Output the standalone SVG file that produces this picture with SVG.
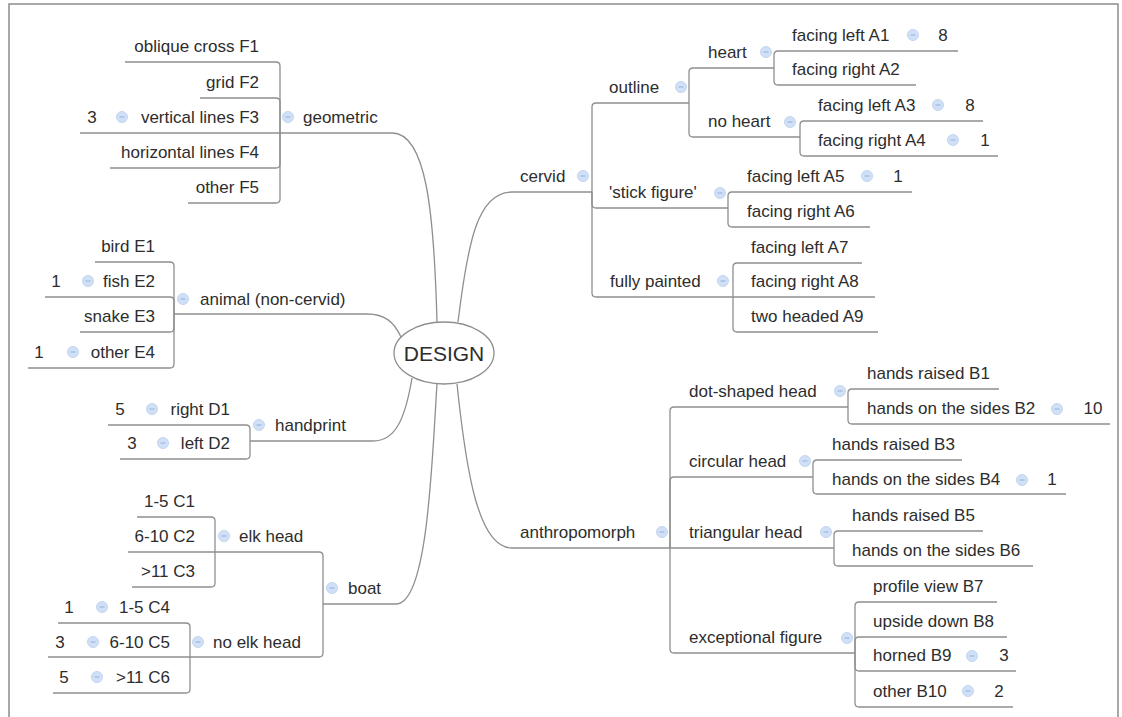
<svg xmlns="http://www.w3.org/2000/svg" width="1122" height="717" viewBox="0 0 1122 717">
  <defs>
    <style>
      .frame { fill: none; stroke: #8c8c8c; stroke-width: 1.5; }
      .ln { fill: none; stroke: #8f8f8f; stroke-width: 1.3; }
      .t { font-family: "Liberation Sans", Arial, sans-serif; font-size: 17px; fill: #2d2d2d; }
      .e { text-anchor: end; }
      .m { text-anchor: middle; }
      .root { font-family: "Liberation Sans", Arial, sans-serif; font-size: 21px; fill: #2d2d2d; text-anchor: middle; }
    </style>
    <!-- collapse toggle icon -->
    <g id="tog">
      <circle r="5.5" fill="#d0e0f6" stroke="#b8cdee" stroke-width="0.8"/>
      <line x1="-2.5" y1="0" x2="2.5" y2="0" stroke="#98b4de" stroke-width="1.1"/>
    </g>
  </defs>

  <rect width="1122" height="717" fill="#fff"/>
  <path class="frame" d="M 9 720 V 4 H 1118 V 720"/>

  <!-- connectors: each child branch leaves its parent's joint, turns with a rounded corner -->
  <g id="connectors" class="ln">
    <!-- root to main topics -->
    <path d="M 437 322 C 434 210, 426 133, 392 133"/>
    <path d="M 401 337 C 394 322, 385 314, 367 314"/>
    <path d="M 412 378 C 405 420, 395 441, 373 441"/>
    <path d="M 437 384 C 432 460, 428 604, 396 604"/>
    <path d="M 458 322 C 468 240, 478 192, 512 192"/>
    <path d="M 457 384 C 466 470, 478 548, 512 548"/>

    <!-- geometric -->
    <path d="M 280 133 H 392"/>
    <path d="M 280 133 V 66 Q 280 62 276 62 H 125"/>
    <path d="M 280 133 V 102 Q 280 98 276 98 H 200"/>
    <path d="M 280 133 H 80"/>
    <path d="M 280 133 V 164 Q 280 168 276 168 H 110"/>
    <path d="M 280 133 V 199 Q 280 203 276 203 H 188"/>

    <!-- animal -->
    <path d="M 174 314 H 367"/>
    <path d="M 174 314 V 266 Q 174 262 170 262 H 95"/>
    <path d="M 174 314 V 301 Q 174 297 170 297 H 45"/>
    <path d="M 174 314 V 328 Q 174 332 170 332 H 80"/>
    <path d="M 174 314 V 364 Q 174 368 170 368 H 28"/>

    <!-- handprint -->
    <path d="M 250 441 H 373"/>
    <path d="M 250 441 V 429 Q 250 425 246 425 H 108"/>
    <path d="M 250 441 V 455 Q 250 459 246 459 H 120"/>

    <!-- boat -->
    <path d="M 323 604 H 396"/>
    <path d="M 323 604 V 556 Q 323 552 319 552 H 215"/>
    <path d="M 323 604 V 653 Q 323 657 319 657 H 190"/>
    <path d="M 215 552 V 521 Q 215 517 211 517 H 137"/>
    <path d="M 215 552 H 128"/>
    <path d="M 215 552 V 583 Q 215 587 211 587 H 132"/>
    <path d="M 190 657 V 627 Q 190 623 186 623 H 58"/>
    <path d="M 190 657 H 48"/>
    <path d="M 190 657 V 689 Q 190 693 186 693 H 53"/>

    <!-- cervid -->
    <path d="M 512 192 H 592"/>
    <path d="M 592 192 V 107 Q 592 103 596 103 H 689"/>
    <path d="M 592 192 V 204 Q 592 208 596 208 H 728"/>
    <path d="M 592 192 V 293 Q 592 297 596 297 H 733"/>
    <path d="M 689 103 V 72 Q 689 68 693 68 H 774"/>
    <path d="M 689 103 V 133 Q 689 137 693 137 H 800"/>
    <path d="M 774 68 V 55 Q 774 51 778 51 H 958"/>
    <path d="M 774 68 V 81 Q 774 85 778 85 H 916"/>
    <path d="M 800 137 V 125 Q 800 121 804 121 H 983"/>
    <path d="M 800 137 V 152 Q 800 156 804 156 H 998"/>
    <path d="M 728 208 V 196 Q 728 192 732 192 H 912"/>
    <path d="M 728 208 V 223 Q 728 227 732 227 H 870"/>
    <path d="M 733 297 V 267 Q 733 263 737 263 H 862"/>
    <path d="M 733 297 H 875"/>
    <path d="M 733 297 V 328 Q 733 332 737 332 H 878"/>

    <!-- anthropomorph -->
    <path d="M 512 548 H 670"/>
    <path d="M 670 548 V 411 Q 670 407 674 407 H 848"/>
    <path d="M 670 548 V 481 Q 670 477 674 477 H 813"/>
    <path d="M 670 548 H 834"/>
    <path d="M 670 548 V 649 Q 670 653 674 653 H 855"/>
    <path d="M 848 407 V 393 Q 848 389 852 389 H 999"/>
    <path d="M 848 407 V 420 Q 848 424 852 424 H 1110"/>
    <path d="M 813 477 V 464 Q 813 460 817 460 H 962"/>
    <path d="M 813 477 V 490 Q 813 494 817 494 H 1066"/>
    <path d="M 834 548 V 535 Q 834 531 838 531 H 983"/>
    <path d="M 834 548 V 562 Q 834 566 838 566 H 1033"/>
    <path d="M 855 653 V 606 Q 855 602 859 602 H 997"/>
    <path d="M 855 653 V 641 Q 855 637 859 637 H 1007"/>
    <path d="M 855 653 V 667 Q 855 671 859 671 H 1016"/>
    <path d="M 855 653 V 703 Q 855 707 859 707 H 1013"/>
  </g>

  <!-- central topic -->
  <g id="design">
    <ellipse cx="444" cy="353" rx="50" ry="31" fill="#fff" stroke="#8f8f8f" stroke-width="1.3"/>
    <text class="root" x="444" y="361">DESIGN</text>
  </g>

  <!-- geometric -->
  <g id="geometric">
    <use href="#tog" x="288" y="117"/>
    <text class="t" x="303" y="123">geometric</text>
  </g>
  <g id="f1"><text class="t e" x="259" y="52">oblique cross F1</text></g>
  <g id="f2"><text class="t e" x="259" y="88">grid F2</text></g>
  <g id="f3">
    <text class="t m" x="92" y="123">3</text>
    <use href="#tog" x="122" y="117"/>
    <text class="t e" x="259" y="123">vertical lines F3</text>
  </g>
  <g id="f4"><text class="t e" x="259" y="158">horizontal lines F4</text></g>
  <g id="f5"><text class="t e" x="259" y="193">other F5</text></g>

  <!-- animal -->
  <g id="animal">
    <use href="#tog" x="183" y="299"/>
    <text class="t" x="200" y="305">animal (non-cervid)</text>
  </g>
  <g id="e1"><text class="t e" x="155" y="252">bird E1</text></g>
  <g id="e2">
    <text class="t m" x="56" y="287">1</text>
    <use href="#tog" x="88" y="281"/>
    <text class="t e" x="155" y="287">fish E2</text>
  </g>
  <g id="e3"><text class="t e" x="155" y="322">snake E3</text></g>
  <g id="e4">
    <text class="t m" x="39" y="358">1</text>
    <use href="#tog" x="73" y="352"/>
    <text class="t e" x="155" y="358">other E4</text>
  </g>

  <!-- handprint -->
  <g id="handprint">
    <use href="#tog" x="259" y="425"/>
    <text class="t" x="275" y="431">handprint</text>
  </g>
  <g id="d1">
    <text class="t m" x="120" y="415">5</text>
    <use href="#tog" x="152" y="409"/>
    <text class="t e" x="230" y="415">right D1</text>
  </g>
  <g id="d2">
    <text class="t m" x="132" y="449">3</text>
    <use href="#tog" x="163" y="443"/>
    <text class="t e" x="230" y="449">left D2</text>
  </g>

  <!-- boat -->
  <g id="boat">
    <use href="#tog" x="332" y="588"/>
    <text class="t" x="348" y="594">boat</text>
  </g>
  <g id="elk-head">
    <use href="#tog" x="224" y="536"/>
    <text class="t" x="239" y="542">elk head</text>
  </g>
  <g id="c1"><text class="t e" x="195" y="507">1-5 C1</text></g>
  <g id="c2"><text class="t e" x="195" y="542">6-10 C2</text></g>
  <g id="c3"><text class="t e" x="195" y="577">&gt;11 C3</text></g>
  <g id="no-elk-head">
    <use href="#tog" x="198" y="642"/>
    <text class="t" x="213" y="648">no elk head</text>
  </g>
  <g id="c4">
    <text class="t m" x="69" y="613">1</text>
    <use href="#tog" x="102" y="607"/>
    <text class="t e" x="170" y="613">1-5 C4</text>
  </g>
  <g id="c5">
    <text class="t m" x="60" y="648">3</text>
    <use href="#tog" x="93" y="642"/>
    <text class="t e" x="170" y="648">6-10 C5</text>
  </g>
  <g id="c6">
    <text class="t m" x="64" y="683">5</text>
    <use href="#tog" x="97" y="677"/>
    <text class="t e" x="170" y="683">&gt;11 C6</text>
  </g>

  <!-- cervid -->
  <g id="cervid">
    <text class="t" x="520" y="182">cervid</text>
    <use href="#tog" x="583" y="176"/>
  </g>
  <g id="outline">
    <text class="t" x="609" y="93">outline</text>
    <use href="#tog" x="681" y="87"/>
  </g>
  <g id="heart">
    <text class="t" x="708" y="58">heart</text>
    <use href="#tog" x="766" y="52"/>
  </g>
  <g id="a1">
    <text class="t" x="792" y="41">facing left A1</text>
    <use href="#tog" x="913" y="35"/>
    <text class="t m" x="943" y="41">8</text>
  </g>
  <g id="a2"><text class="t" x="792" y="75">facing right A2</text></g>
  <g id="no-heart">
    <text class="t" x="708" y="127">no heart</text>
    <use href="#tog" x="790" y="122"/>
  </g>
  <g id="a3">
    <text class="t" x="818" y="111">facing left A3</text>
    <use href="#tog" x="938" y="105"/>
    <text class="t m" x="970" y="111">8</text>
  </g>
  <g id="a4">
    <text class="t" x="818" y="146">facing right A4</text>
    <use href="#tog" x="953" y="140"/>
    <text class="t m" x="985" y="146">1</text>
  </g>
  <g id="stick-figure">
    <text class="t" x="609" y="198">'stick figure'</text>
    <use href="#tog" x="720" y="193"/>
  </g>
  <g id="a5">
    <text class="t" x="747" y="182">facing left A5</text>
    <use href="#tog" x="867" y="176"/>
    <text class="t m" x="898" y="182">1</text>
  </g>
  <g id="a6"><text class="t" x="747" y="217">facing right A6</text></g>
  <g id="fully-painted">
    <text class="t" x="610" y="287">fully painted</text>
    <use href="#tog" x="723" y="281"/>
  </g>
  <g id="a7"><text class="t" x="751" y="253">facing left A7</text></g>
  <g id="a8"><text class="t" x="751" y="287">facing right A8</text></g>
  <g id="a9"><text class="t" x="751" y="322">two headed A9</text></g>

  <!-- anthropomorph -->
  <g id="anthropomorph">
    <text class="t" x="520" y="538">anthropomorph</text>
    <use href="#tog" x="662" y="532"/>
  </g>
  <g id="dot-shaped-head">
    <text class="t" x="689" y="397">dot-shaped head</text>
    <use href="#tog" x="840" y="391"/>
  </g>
  <g id="b1"><text class="t" x="867" y="379">hands raised B1</text></g>
  <g id="b2">
    <text class="t" x="867" y="414">hands on the sides B2</text>
    <use href="#tog" x="1057" y="409"/>
    <text class="t m" x="1093" y="414">10</text>
  </g>
  <g id="circular-head">
    <text class="t" x="689" y="467">circular head</text>
    <use href="#tog" x="805" y="461"/>
  </g>
  <g id="b3"><text class="t" x="832" y="450">hands raised B3</text></g>
  <g id="b4">
    <text class="t" x="832" y="485">hands on the sides B4</text>
    <use href="#tog" x="1022" y="480"/>
    <text class="t m" x="1052" y="485">1</text>
  </g>
  <g id="triangular-head">
    <text class="t" x="689" y="538">triangular head</text>
    <use href="#tog" x="826" y="532"/>
  </g>
  <g id="b5"><text class="t" x="852" y="521">hands raised B5</text></g>
  <g id="b6"><text class="t" x="852" y="556">hands on the sides B6</text></g>
  <g id="exceptional-figure">
    <text class="t" x="689" y="643">exceptional figure</text>
    <use href="#tog" x="847" y="638"/>
  </g>
  <g id="b7"><text class="t" x="873" y="592">profile view B7</text></g>
  <g id="b8"><text class="t" x="873" y="627">upside down B8</text></g>
  <g id="b9">
    <text class="t" x="873" y="661">horned B9</text>
    <use href="#tog" x="972" y="656"/>
    <text class="t m" x="1004" y="661">3</text>
  </g>
  <g id="b10">
    <text class="t" x="873" y="697">other B10</text>
    <use href="#tog" x="968" y="691"/>
    <text class="t m" x="999" y="697">2</text>
  </g>
</svg>
